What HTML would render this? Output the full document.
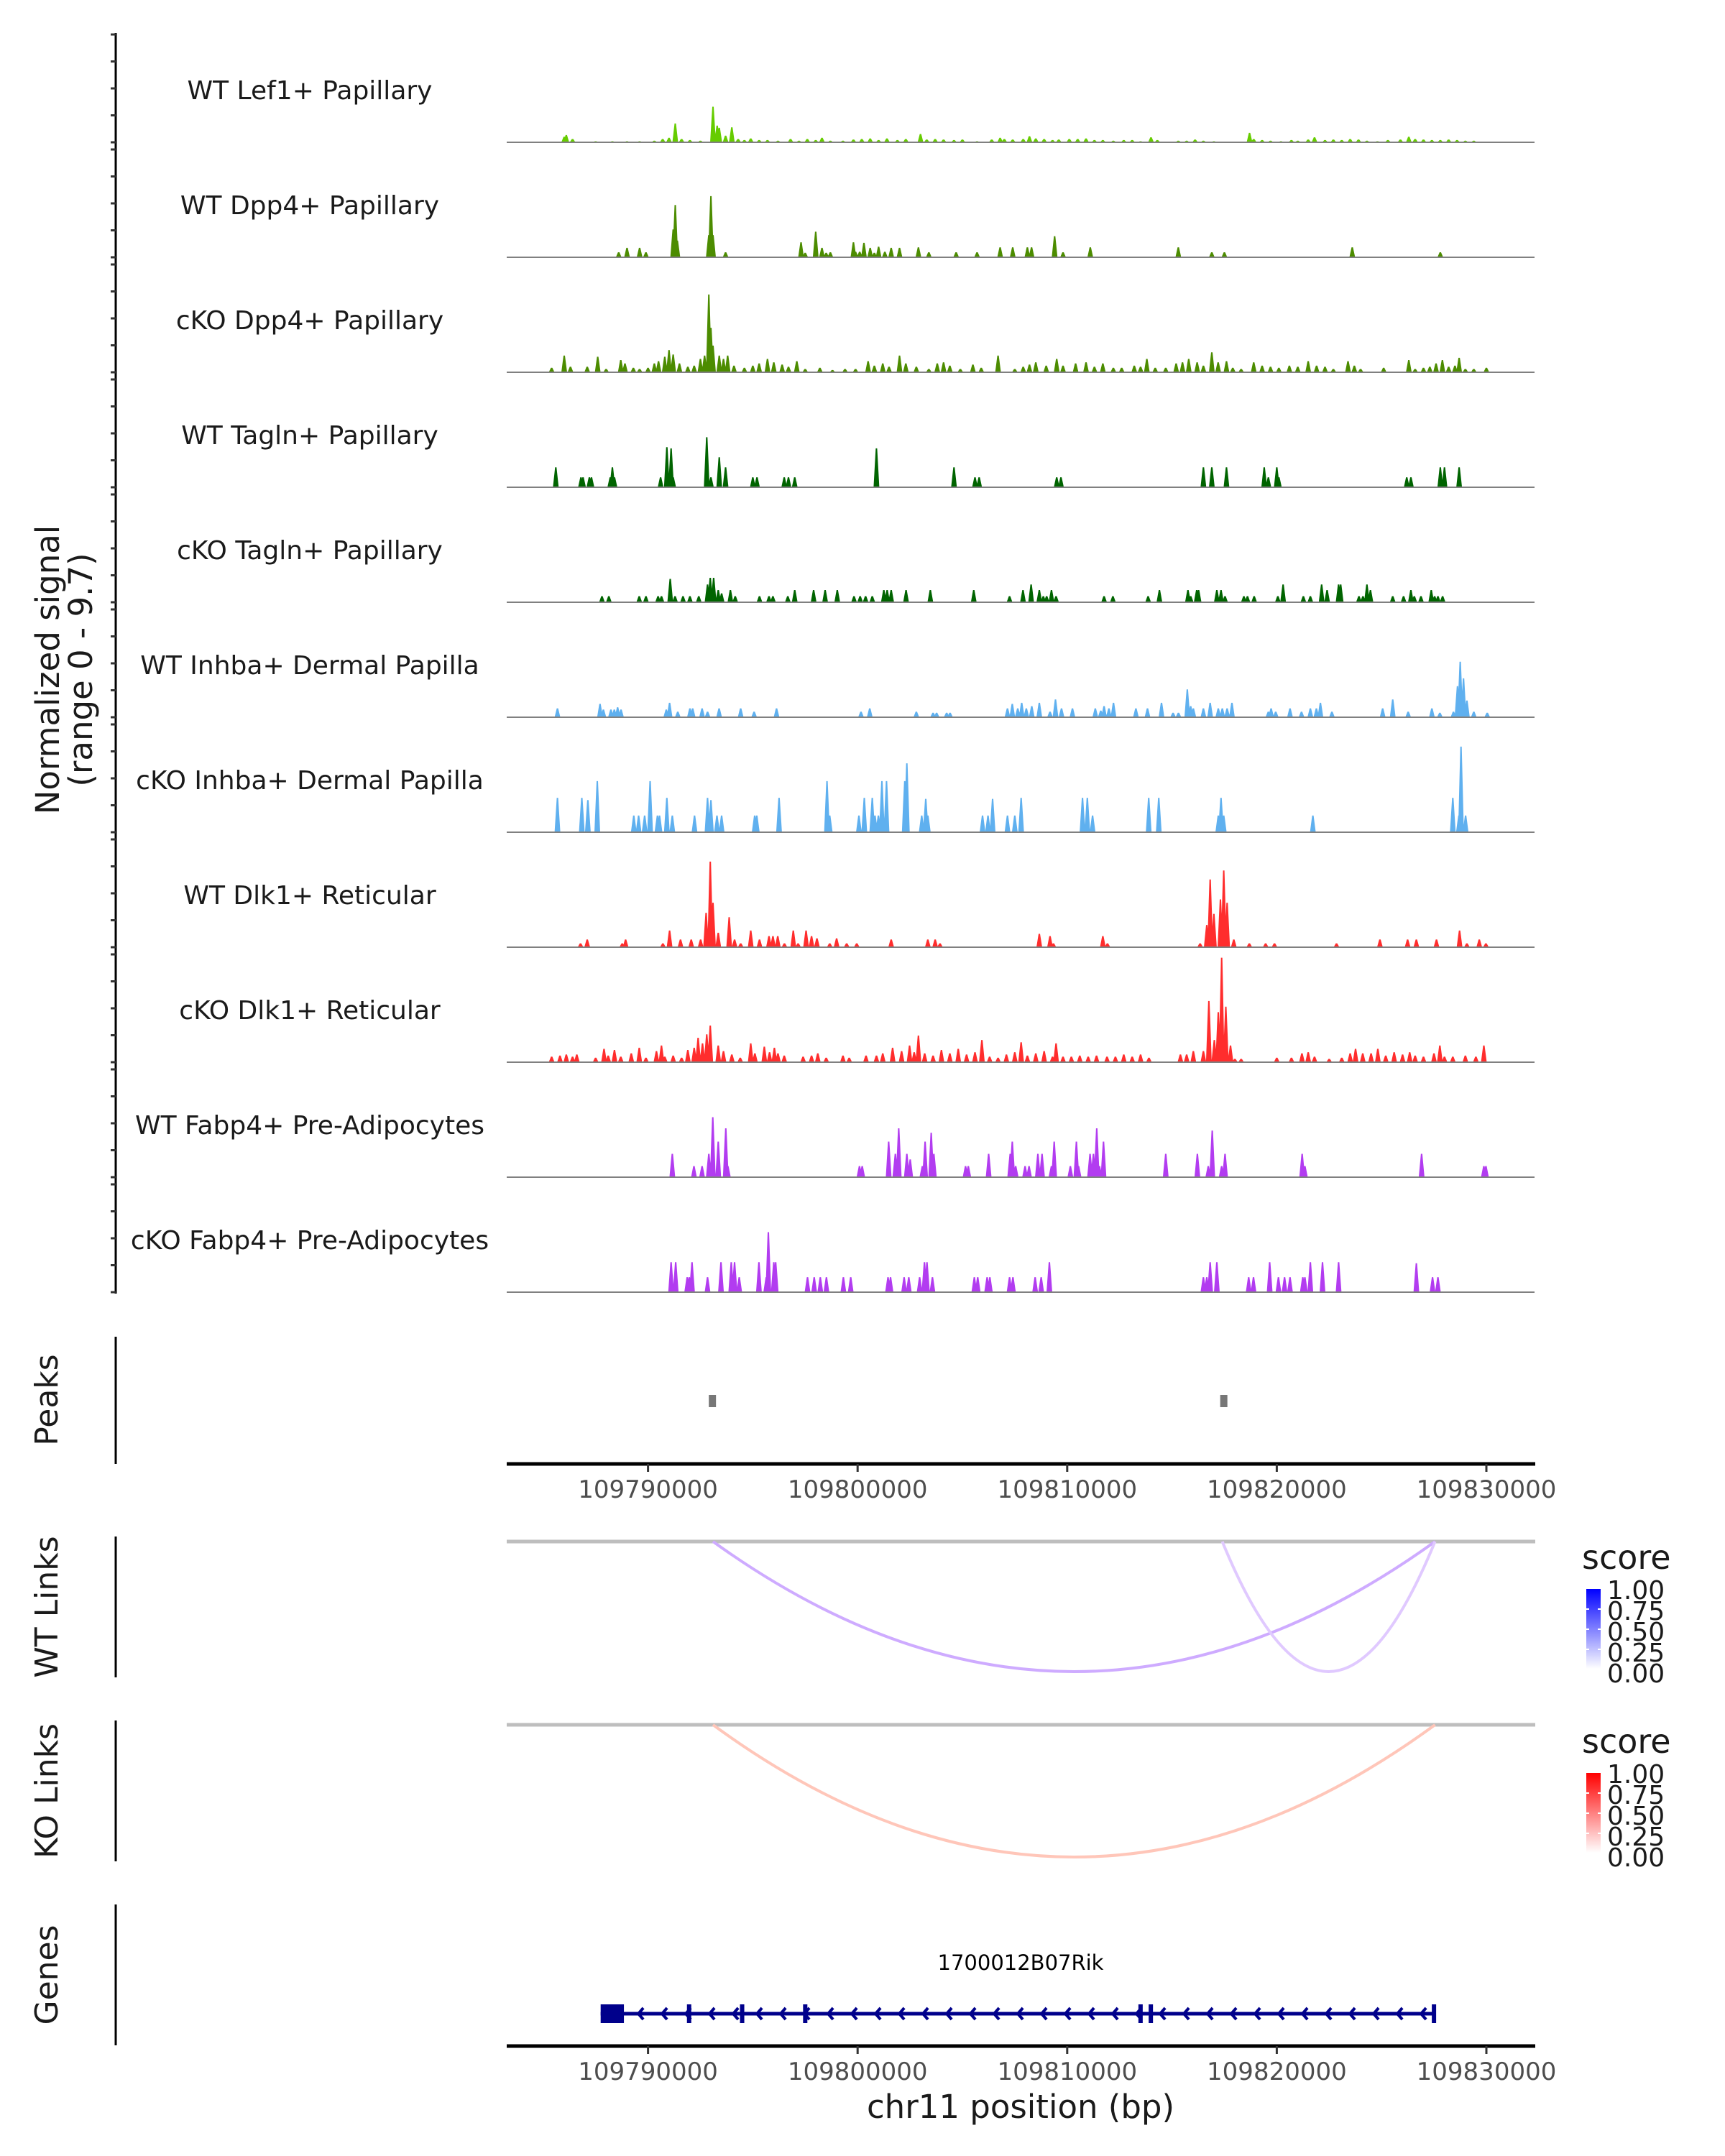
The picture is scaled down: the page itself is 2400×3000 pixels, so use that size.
<!DOCTYPE html>
<html><head><meta charset="utf-8">
<style>
html,body{margin:0;padding:0;background:#fff;}
svg{display:block;font-family:"DejaVu Sans","Liberation Sans",sans-serif;}
</style></head>
<body>
<svg id="chart" width="2400" height="3000" viewBox="0 0 2400 3000" xmlns="http://www.w3.org/2000/svg">
<rect width="2400" height="3000" fill="#fff"/>
<g id="tracks"></g>
<g id="yaxis">
  <line x1="161" y1="46" x2="161" y2="1800" stroke="#000" stroke-width="3"/>
</g>
<text transform="translate(82,932) rotate(-90)" text-anchor="middle" font-size="45" fill="#1a1a1a">Normalized signal</text>
<text transform="translate(128,932) rotate(-90)" text-anchor="middle" font-size="45" fill="#1a1a1a">(range 0 - 9.7)</text>

<line x1="161" y1="1860" x2="161" y2="2037" stroke="#000" stroke-width="3"/>
<text transform="translate(80,1948) rotate(-90)" text-anchor="middle" font-size="44" fill="#1a1a1a">Peaks</text>
<g id="peaks"></g>
<g id="xaxis1"></g>

<line x1="161" y1="2138" x2="161" y2="2334" stroke="#000" stroke-width="3"/>
<text transform="translate(80,2236) rotate(-90)" text-anchor="middle" font-size="44" fill="#1a1a1a">WT Links</text>
<line x1="161" y1="2394" x2="161" y2="2590" stroke="#000" stroke-width="3"/>
<text transform="translate(80,2492) rotate(-90)" text-anchor="middle" font-size="44" fill="#1a1a1a">KO Links</text>
<g id="links"></g>

<defs>
  <linearGradient id="gBlue" x1="0" y1="1" x2="0" y2="0"><stop offset="0" stop-color="#ffffff"/><stop offset="1" stop-color="#0000ff"/></linearGradient>
  <linearGradient id="gRed" x1="0" y1="1" x2="0" y2="0"><stop offset="0" stop-color="#ffffff"/><stop offset="1" stop-color="#ff0000"/></linearGradient>
</defs>
<g>
  <text x="2201" y="2183" font-size="46" fill="#1a1a1a">score</text>
  <rect x="2207" y="2211" width="20" height="111" fill="url(#gBlue)"/>
  <g fill="#1a1a1a" font-size="36">
    <text x="2236" y="2225">1.00</text><text x="2236" y="2254">0.75</text><text x="2236" y="2283">0.50</text><text x="2236" y="2312">0.25</text><text x="2236" y="2341">0.00</text>
  </g>
  <g stroke="#fff" stroke-width="2"><line x1="2207" y1="2239" x2="2211" y2="2239"/><line x1="2223" y1="2239" x2="2227" y2="2239"/><line x1="2207" y1="2267" x2="2211" y2="2267"/><line x1="2223" y1="2267" x2="2227" y2="2267"/><line x1="2207" y1="2295" x2="2211" y2="2295"/><line x1="2223" y1="2295" x2="2227" y2="2295"/></g>
</g>
<g>
  <text x="2201" y="2439" font-size="46" fill="#1a1a1a">score</text>
  <rect x="2207" y="2467" width="20" height="111" fill="url(#gRed)"/>
  <g fill="#1a1a1a" font-size="36">
    <text x="2236" y="2481">1.00</text><text x="2236" y="2510">0.75</text><text x="2236" y="2539">0.50</text><text x="2236" y="2568">0.25</text><text x="2236" y="2597">0.00</text>
  </g>
  <g stroke="#fff" stroke-width="2"><line x1="2207" y1="2495" x2="2211" y2="2495"/><line x1="2223" y1="2495" x2="2227" y2="2495"/><line x1="2207" y1="2523" x2="2211" y2="2523"/><line x1="2223" y1="2523" x2="2227" y2="2523"/><line x1="2207" y1="2551" x2="2211" y2="2551"/><line x1="2223" y1="2551" x2="2227" y2="2551"/></g>
</g>

<line x1="161" y1="2650" x2="161" y2="2846" stroke="#000" stroke-width="3"/>
<text transform="translate(80,2748) rotate(-90)" text-anchor="middle" font-size="44" fill="#1a1a1a">Genes</text>
<g id="genes"></g>
<text x="1420" y="2741" text-anchor="middle" font-size="29" fill="#000">1700012B07Rik</text>
<g id="xaxis2"></g>
<text x="1420" y="2947" text-anchor="middle" font-size="45" fill="#1a1a1a">chr11 position (bp)</text>
</svg>
<script>
// positions in kb relative to 109780000; values in normalized signal
const trackNames = ["WT Lef1+ Papillary","WT Dpp4+ Papillary","cKO Dpp4+ Papillary","WT Tagln+ Papillary","cKO Tagln+ Papillary","WT Inhba+ Dermal Papilla","cKO Inhba+ Dermal Papilla","WT Dlk1+ Reticular","cKO Dlk1+ Reticular","WT Fabp4+ Pre-Adipocytes","cKO Fabp4+ Pre-Adipocytes"];
const lef1WT = [[6.0,.5],[6.1,.65],[6.4,.3],[7.5,.1],[8.3,.1],[9.0,.1],[9.6,.1],[10.3,.15],[10.7,.3],[11.0,.4],[11.3,1.7],[11.6,.3],[12.0,.2],[12.5,.15],[13.1,3.2],[13.3,1.5],[13.4,1.3],[13.7,.6],[14.0,1.35],[14.3,.3],[14.6,.2],[14.9,.35],[15.3,.2],[15.7,.2],[16.2,.15],[16.8,.3],[17.2,.15],[17.6,.3],[18.0,.2],[18.3,.4],[18.7,.15],[19.3,.15],[19.8,.25],[20.2,.3],[20.6,.35],[21.0,.2],[21.4,.35],[21.9,.2],[22.3,.3],[23.0,.75],[23.3,.25],[23.7,.3],[24.1,.25],[24.6,.2],[25.0,.25],[25.7,.1],[26.4,.25],[26.8,.4],[27.0,.3],[27.4,.25],[27.9,.3],[28.2,.55],[28.5,.35],[28.9,.3],[29.3,.2],[29.6,.25],[30.1,.3],[30.5,.3],[30.9,.35],[31.3,.2],[31.7,.2],[32.2,.15],[32.7,.2],[33.1,.2],[33.5,.1],[34.0,.45],[34.3,.2],[35.3,.15],[35.7,.15],[36.1,.25],[36.5,.15],[37.0,.1],[38.7,.85],[38.9,.3],[39.3,.2],[39.7,.15],[40.2,.1],[40.7,.2],[41.0,.15],[41.5,.25],[41.8,.45],[42.3,.2],[42.7,.25],[43.1,.2],[43.5,.3],[43.9,.25],[44.3,.15],[44.8,.1],[45.3,.2],[45.9,.25],[46.3,.5],[46.6,.3],[47.0,.25],[47.4,.2],[47.8,.2],[48.2,.25],[48.6,.2],[49.0,.15],[49.4,.15]];
const dpp4WT = [[8.6,.45],[9.0,.85],[9.6,.85],[9.9,.45],[11.2,2.5],[11.3,4.7],[11.4,1.5],[12.9,2.0],[13.0,5.5],[13.1,2.0],[13.7,.45],[17.3,1.35],[17.5,.4],[18.0,2.3],[18.3,.85],[18.5,.4],[18.7,.45],[19.8,1.35],[19.9,.5],[20.1,.5],[20.3,1.3],[20.6,.85],[20.8,.4],[21.0,.95],[21.3,.5],[21.6,.85],[22.0,.85],[22.9,.9],[23.4,.45],[24.7,.45],[25.7,.45],[26.8,.9],[27.4,.9],[28.1,.9],[28.3,.9],[29.4,1.9],[29.8,.45],[31.1,.9],[35.3,.9],[36.9,.45],[37.5,.45],[43.6,.9],[47.8,.45]];
const dpp4KO = [[5.4,.4],[6.0,1.5],[6.3,.5],[7.1,.5],[7.6,1.4],[8.0,.3],[8.7,1.1],[8.9,.8],[9.3,.4],[9.6,.3],[10.0,.4],[10.3,.8],[10.5,1.0],[10.8,1.4],[11.0,2.0],[11.2,1.6],[11.5,.8],[11.9,.5],[12.2,.6],[12.5,1.2],[12.7,1.5],[12.9,7.0],[13.0,4.0],[13.1,2.4],[13.4,1.5],[13.6,1.2],[13.8,1.5],[14.1,.6],[14.6,.4],[15.0,.6],[15.3,.8],[15.7,1.2],[16.0,.9],[16.4,.7],[16.7,.5],[17.1,1.0],[17.5,.3],[18.2,.4],[18.8,.2],[19.4,.3],[19.9,.3],[20.5,1.0],[20.8,.6],[21.2,.8],[21.5,.5],[22.0,1.5],[22.3,.8],[22.8,.5],[23.4,.3],[23.8,.8],[24.1,.9],[24.4,.6],[24.9,.3],[25.5,.7],[25.9,.4],[26.7,1.5],[27.5,.3],[27.9,.5],[28.2,.7],[28.5,.9],[29.0,.6],[29.5,1.2],[29.8,.6],[30.4,.8],[30.9,.9],[31.3,.5],[31.7,.8],[32.2,.4],[32.6,.4],[33.2,.6],[33.5,.5],[33.8,1.2],[34.2,.4],[34.7,.4],[35.2,.8],[35.5,.9],[35.8,1.2],[36.2,.9],[36.5,.6],[36.9,1.8],[37.2,.9],[37.6,1.0],[37.9,.4],[38.3,.3],[38.9,.9],[39.3,.6],[39.7,.5],[40.1,.4],[40.6,.6],[41.0,.5],[41.5,1.0],[41.9,.6],[42.3,.5],[42.7,.3],[43.4,1.0],[43.7,.6],[44.0,.3],[45.1,.4],[46.3,1.1],[46.6,.3],[47.0,.4],[47.3,.5],[47.6,.8],[47.9,1.1],[48.2,.5],[48.5,.6],[48.7,1.3],[49.0,.3],[49.4,.3],[50.0,.4]];
const taglnWT = [[5.6,1.8],[6.8,.9],[6.9,.9],[7.2,.9],[7.3,.9],[8.2,.9],[8.3,1.8],[8.4,.9],[10.6,.9],[10.9,3.6],[11.1,3.5],[11.2,.9],[12.8,4.5],[13.0,.9],[13.4,2.7],[13.7,1.8],[15.0,.9],[15.2,.9],[16.5,.9],[16.7,.9],[17.0,.9],[20.9,3.5],[24.6,1.8],[25.6,.9],[25.8,.9],[29.5,.9],[29.7,.9],[36.5,1.8],[36.9,1.8],[37.6,1.8],[39.4,1.8],[39.6,.9],[40.0,1.8],[40.1,.9],[46.2,.9],[46.4,.9],[47.8,1.8],[48.0,1.8],[48.7,1.8]];
const taglnKO = [[7.8,.55],[8.13,.55],[9.58,.55],[9.9,.55],[10.48,.55],[10.64,.55],[11.06,2.1],[11.29,.55],[11.67,.55],[12.0,.55],[12.42,.55],[12.84,1.6],[12.97,2.2],[13.13,2.2],[13.35,1.1],[13.51,.8],[13.93,1.1],[14.16,.55],[15.32,.55],[15.77,.55],[15.96,.55],[16.67,.55],[17.0,1.1],[17.9,1.1],[18.45,1.1],[19.03,1.1],[19.83,.55],[20.12,.55],[20.38,.55],[20.7,.55],[21.25,1.1],[21.41,1.1],[21.6,1.1],[22.31,1.1],[23.47,1.1],[25.54,1.1],[27.25,.55],[27.89,1.1],[28.28,1.6],[28.67,1.1],[28.86,.55],[29.02,.55],[29.25,1.1],[29.47,.55],[31.76,.55],[32.18,.55],[33.86,.55],[34.4,1.1],[35.76,1.1],[35.89,.55],[36.18,1.1],[36.27,1.1],[37.14,1.1],[37.34,1.1],[37.53,.55],[38.43,.55],[38.6,.55],[38.92,.55],[40.05,.55],[40.3,1.6],[41.27,.55],[41.6,.55],[42.14,1.6],[42.4,1.1],[42.95,1.6],[43.05,1.6],[43.92,.55],[44.11,.55],[44.3,1.6],[44.47,1.1],[45.53,.55],[46.05,.55],[46.4,1.1],[46.56,.55],[46.88,.55],[47.37,1.1],[47.53,.55],[47.69,.55],[47.91,.55]];
const inhbaWT = [[5.68,.8],[7.71,1.2],[7.87,.7],[8.23,.7],[8.39,.7],[8.55,.9],[8.71,.7],[10.87,.7],[11.03,1.3],[11.42,.5],[12.0,.8],[12.13,.8],[12.58,.8],[12.84,.5],[13.39,.8],[14.42,.8],[15.06,.5],[16.13,.8],[20.16,.5],[20.58,.8],[22.8,.5],[23.6,.4],[23.77,.4],[24.25,.4],[24.41,.4],[27.15,.8],[27.38,1.2],[27.64,.8],[27.83,1.3],[28.05,.8],[28.31,1.0],[28.67,1.3],[29.18,.5],[29.44,1.6],[29.73,.8],[30.25,.8],[31.34,.8],[31.6,.6],[31.76,1.0],[31.99,.8],[32.21,1.3],[33.28,.8],[33.83,.8],[34.5,1.3],[35.05,.4],[35.31,.4],[35.73,2.5],[35.89,1.0],[36.02,.8],[36.5,.8],[36.82,1.3],[37.21,.8],[37.4,.8],[37.63,.8],[37.86,1.3],[39.6,.5],[39.73,.8],[39.95,.5],[40.63,.8],[41.18,.5],[41.6,.8],[41.89,.8],[42.08,1.3],[42.63,.5],[45.05,.8],[45.53,1.6],[46.27,.5],[47.4,.8],[47.78,.4],[48.43,.5],[48.62,2.8],[48.75,5.0],[48.91,3.5],[49.07,1.5],[49.4,.5],[50.04,.4]];
const inhbaKO = [[5.68,3.1],[6.84,3.1],[7.13,2.9],[7.58,4.6],[9.32,1.5],[9.55,1.5],[9.84,1.5],[10.1,4.6],[10.45,1.5],[10.55,1.5],[10.9,3.1],[11.16,1.5],[12.22,1.5],[12.84,3.1],[13.0,2.9],[13.29,1.5],[13.51,1.5],[15.09,1.5],[15.19,1.5],[16.25,3.1],[18.54,4.6],[18.67,1.5],[20.06,1.5],[20.32,3.1],[20.7,3.1],[20.83,1.5],[20.99,1.5],[21.16,4.6],[21.38,4.6],[22.25,4.6],[22.35,6.2],[23.06,1.5],[23.25,3.0],[23.35,1.5],[25.96,1.5],[26.22,1.5],[26.44,3.0],[27.15,1.5],[27.5,1.5],[27.8,3.1],[30.73,3.1],[30.96,3.1],[31.21,1.5],[33.89,3.1],[34.37,3.1],[37.21,1.5],[37.34,3.1],[37.47,1.5],[41.72,1.5],[48.4,3.1],[48.69,1.5],[48.79,7.7],[49.01,1.5]];
const dlk1WT = [[6.78,.35],[7.1,.7],[8.77,.35],[8.93,.7],[10.71,.35],[11.03,1.5],[11.55,.7],[12.06,.7],[12.51,.7],[12.77,3.1],[12.97,7.7],[13.1,4.0],[13.35,1.3],[13.87,2.7],[14.13,.7],[14.42,.35],[14.9,1.5],[15.32,.7],[15.77,1.0],[15.96,1.0],[16.19,1.0],[16.51,.35],[16.93,1.5],[17.16,.35],[17.54,1.5],[17.8,1.0],[18.06,.8],[18.67,.35],[19.0,.8],[19.48,.35],[19.96,.35],[21.6,.7],[23.35,.7],[23.7,.7],[23.93,.35],[28.67,1.2],[29.18,1.0],[29.34,.35],[31.7,1.0],[31.92,.35],[36.34,.35],[36.66,2.0],[36.82,6.1],[37.0,3.0],[37.31,4.3],[37.47,6.9],[37.63,4.0],[37.95,.7],[38.69,.35],[39.47,.35],[39.89,.35],[42.85,.35],[44.92,.7],[46.24,.7],[46.66,.7],[47.62,.7],[48.72,1.5],[49.07,.35],[49.66,.7],[49.98,.35]];
const dlk1KO = [[5.4,.5],[5.8,.6],[6.1,.7],[6.4,.5],[6.6,.7],[7.5,.4],[7.9,1.2],[8.1,.6],[8.4,1.1],[8.7,.5],[9.2,.8],[9.58,1.3],[9.9,.4],[10.4,1.0],[10.64,1.5],[10.8,.5],[11.2,.6],[11.6,.4],[11.9,1.1],[12.2,1.3],[12.39,2.2],[12.6,1.7],[12.8,2.5],[12.97,3.3],[13.35,1.5],[13.6,1.0],[14.0,.7],[14.4,.4],[14.9,1.7],[15.1,.8],[15.55,1.4],[15.8,.9],[16.03,1.3],[16.2,.8],[16.5,.6],[17.4,.5],[17.8,.6],[18.1,.8],[18.5,.4],[19.3,.6],[19.6,.4],[20.4,.6],[20.9,.6],[21.2,.8],[21.67,1.3],[22.1,1.0],[22.48,1.5],[22.7,.9],[22.9,2.4],[23.2,.8],[23.6,.6],[24.0,1.1],[24.4,.8],[24.8,1.2],[25.2,.7],[25.6,.9],[25.93,2.0],[26.3,.5],[26.7,.4],[27.1,.7],[27.5,.9],[27.8,1.8],[28.1,.6],[28.5,.8],[28.9,1.0],[29.3,.5],[29.47,1.7],[29.8,.5],[30.2,.5],[30.6,.6],[31.0,.5],[31.4,.6],[31.9,.5],[32.3,.5],[32.7,.7],[33.1,.5],[33.5,.7],[33.9,.4],[35.4,.7],[35.7,.7],[36.02,1.0],[36.5,1.0],[36.76,5.5],[37.02,2.0],[37.21,4.5],[37.37,9.4],[37.57,5.0],[37.79,1.5],[38.0,.3],[38.3,.3],[40.0,.4],[40.7,.4],[41.2,.8],[41.5,.9],[41.8,.5],[42.5,.3],[43.1,.4],[43.5,.8],[43.76,1.2],[44.1,.8],[44.5,.8],[44.82,1.2],[45.2,.6],[45.6,.9],[46.0,.7],[46.34,.9],[46.6,.6],[47.0,.5],[47.5,.8],[47.78,1.5],[48.0,.5],[48.4,.5],[49.0,.6],[49.5,.5],[49.88,1.5]];
const fabp4WT = [[11.16,2.1],[12.19,1.0],[12.58,1.0],[12.9,2.1],[13.09,5.4],[13.35,3.2],[13.71,4.4],[13.81,1.0],[20.09,1.0],[20.22,1.0],[21.48,3.2],[21.8,2.1],[21.96,4.4],[22.35,2.1],[22.51,1.6],[23.09,1.0],[23.22,3.2],[23.51,4.0],[23.64,2.1],[25.15,1.0],[25.28,1.0],[26.25,2.1],[27.28,2.1],[27.38,3.2],[27.54,1.0],[27.99,1.0],[28.18,1.0],[28.6,2.1],[28.8,2.1],[29.25,1.0],[29.38,3.2],[30.15,1.0],[30.44,3.2],[30.54,1.0],[31.09,2.1],[31.25,2.1],[31.41,4.4],[31.54,1.0],[31.73,3.2],[34.7,2.1],[36.21,2.1],[36.73,1.0],[36.92,4.2],[37.37,1.0],[37.53,2.1],[41.21,2.1],[41.34,1.0],[46.91,2.1],[49.88,1.0],[49.98,1.0]];
const fabp4KO = [[11.1,2.7],[11.32,2.7],[11.87,1.35],[11.97,1.35],[12.1,2.7],[12.84,1.35],[13.48,2.7],[13.97,2.7],[14.13,2.7],[14.35,1.35],[15.29,2.7],[15.64,1.35],[15.74,5.4],[16.0,2.7],[16.09,2.7],[17.61,1.35],[17.93,1.35],[18.22,1.35],[18.51,1.35],[19.32,1.35],[19.67,1.35],[21.45,1.35],[21.57,1.35],[22.22,1.35],[22.44,1.35],[22.96,1.35],[23.19,2.7],[23.31,2.7],[23.57,1.35],[25.57,1.35],[25.73,1.35],[26.18,1.35],[26.31,1.35],[27.25,1.35],[27.41,1.35],[28.47,1.35],[28.76,1.35],[29.15,2.7],[36.5,1.35],[36.66,1.35],[36.82,2.7],[37.14,2.7],[38.66,1.35],[38.89,1.35],[39.66,2.7],[40.08,1.35],[40.37,1.35],[40.63,1.35],[41.24,1.35],[41.34,1.35],[41.6,2.7],[42.18,2.7],[42.95,2.7],[46.66,2.6],[47.43,1.35],[47.69,1.35]];
const trackData = [lef1WT,dpp4WT,dpp4KO,taglnWT,taglnKO,inhbaWT,inhbaKO,dlk1WT,dlk1KO,fabp4WT,fabp4KO];
const trackColors = ["#66cc00","#4c8c00","#4c8c00","#006400","#006400","#5fb0ef","#5fb0ef","#ff2d2d","#ff2d2d","#b23cf0","#b23cf0"];
const peakRegions = [[12.9,13.2],[37.3,37.6]];
const wtLinks = [[13.1,47.55,0.28],[37.4,47.55,0.18]];
const koLinks = [[13.1,47.55,0.25]];
const geneStart = 7.74, geneEnd = 47.5;
const exonBlocks = [[7.74,8.85]];
const exonTicks = [11.96,14.49,17.5,33.5,33.99,47.5];
const xTicks = [10,20,30,40,50];
const xTickLabels = ["109790000","109800000","109810000","109820000","109830000"];
const yMax = 9.7;

const NS="http://www.w3.org/2000/svg";
const X = kb => 992 + (kb-13.1)*29.16;
const TRACK_H = 150;
const Y = (v, base) => base - v/yMax*TRACK_H;
function mk(tag, attrs, parent){const e=document.createElementNS(NS,tag);for(const k in attrs)e.setAttribute(k,attrs[k]);parent.appendChild(e);return e;}

const gT=document.getElementById('tracks'), gY=document.getElementById('yaxis');
trackData.forEach((data,i)=>{
  const base=198+i*160;
  const g=mk('g',{},gT);
  
  
  const lbl=mk('text',{x:431,y:base-60,'text-anchor':'middle','font-size':36,fill:'#1a1a1a'},g);
  lbl.textContent=trackNames[i];
  
  
  let d='';
  data.forEach(([kb,v])=>{const x=X(kb),y=Y(v,base);d+=`M${(x-4).toFixed(1)},${base}L${(x-1).toFixed(1)},${y.toFixed(1)}L${(x+1).toFixed(1)},${y.toFixed(1)}L${(x+4).toFixed(1)},${base}Z`;});
  const p=mk('path',{d:d,fill:trackColors[i]},g);
  
  
  const bl=mk('line',{x1:705,x2:2135,y1:base,y2:base,stroke:'#808080','stroke-width':2},g);
  
  
  for(let k=0;k<=4;k++){const yy=Y(yMax*k/4,base);const t=mk('line',{x1:154,x2:161,y1:yy,y2:yy,stroke:'#333','stroke-width':3},gY);
    
    }
});

const gP=document.getElementById('peaks');
peakRegions.forEach(([a,b])=>{const x1=X(a),x2=Math.max(X(b),x1+10);const r=mk('rect',{x:x1,y:1941,width:x2-x1,height:17,fill:'#777'},gP);
  
  });

function xAxis(id,y){const g=document.getElementById(id);
  mk('line',{x1:705,x2:2136,y1:y,y2:y,stroke:'#000','stroke-width':5},g);
  xTicks.forEach((kb,i)=>{const x=X(kb);mk('line',{x1:x,x2:x,y1:y,y2:y+11,stroke:'#333','stroke-width':3},g);
    const t=mk('text',{x:x,y:y+47,'text-anchor':'middle','font-size':34,fill:'#4d4d4d'},g);t.textContent=xTickLabels[i];
    
    });}
xAxis('xaxis1',2037); xAxis('xaxis2',2847);

const gL=document.getElementById('links');
function linkPanel(links,top,depth,c0,k,name){
  const bl=mk('line',{x1:705,x2:2136,y1:top,y2:top,stroke:'#bebebe','stroke-width':5},gL);
  
  
  links.forEach(([a,b,s])=>{const x1=X(a),x2=X(b);const cy=top+2*depth;
    const col=`rgb(${Math.round(255-(255-c0[0])*s*k)},${Math.round(255-(255-c0[1])*s*k)},${Math.round(255-(255-c0[2])*s*k)})`;
    const p=mk('path',{d:`M${x1},${top}Q${(x1+x2)/2},${cy} ${x2},${top}`,fill:'none',stroke:col,'stroke-width':4},gL);
    
    });
}
linkPanel(wtLinks,2145,181,[130,40,255],1.4,'wt-link');
linkPanel(koLinks,2400,184,[255,80,40],1.3,'ko-link');

const gG=document.getElementById('genes');const gy=2802;const navy='#00008b';
mk('line',{x1:X(geneStart),x2:X(geneEnd),y1:gy,y2:gy,stroke:navy,'stroke-width':5},gG);
exonBlocks.forEach(([a,b])=>{const r=mk('rect',{x:X(a),y:gy-13,width:X(b)-X(a),height:26,fill:navy},gG);
  
  });
exonTicks.forEach(kb=>{const r=mk('rect',{x:X(kb)-3,y:gy-13,width:6,height:26,fill:navy},gG);
  
  });
let cd='';for(let x=X(exonBlocks[0][1])+20;x<X(geneEnd)-10;x+=33){cd+=`M${x+7},${gy-8}L${x},${gy}L${x+7},${gy+8}`;}
const ch=mk('path',{d:cd,fill:'none',stroke:navy,'stroke-width':4},gG);


</script>
</body></html>
